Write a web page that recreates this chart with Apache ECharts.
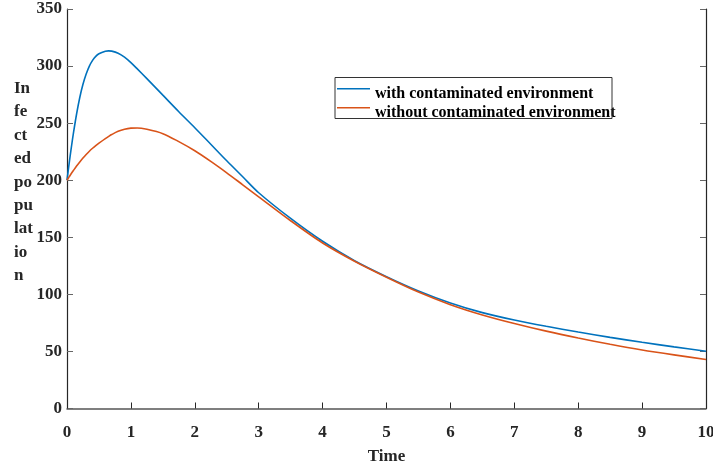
<!DOCTYPE html>
<html>
<head>
<meta charset="utf-8">
<script src="https://cdn.jsdelivr.net/npm/echarts@6/dist/echarts.min.js"></script>
<style>
  html, body { margin: 0; padding: 0; background: #fff; }
  #chart { width: 713px; height: 465px; }
</style>
</head>
<body>
<div id="chart"></div>
<script>
// Infected population over time, with and without the contaminated environment
const time = [0, 0.025, 0.05, 0.075, 0.1, 0.15, 0.2, 0.25, 0.3, 0.35, 0.4, 0.45, 0.5, 0.6, 0.65, 0.7, 0.8, 0.9, 1.0, 1.1, 1.25, 1.5, 1.75, 2, 2.25, 2.5, 2.75, 3, 3.5, 4, 4.5, 5, 5.5, 6, 6.5, 7, 7.5, 8, 8.5, 9, 9.5, 10];
const withEnv = [200, 211, 221.5, 231.5, 241, 258, 272.5, 284, 293, 300, 305, 308.5, 310.8, 313, 313.3, 313.1, 311.3, 307.8, 303, 297.5, 289, 274.5, 260, 246, 231.5, 217, 203, 189, 166.5, 146.5, 129.5, 115.5, 103, 92.5, 84, 77.5, 72, 67, 62.3, 58, 54, 50.2];
const withoutEnv = [200, 202.2, 204.4, 206.5, 208.5, 212.4, 216, 219.4, 222.5, 225.4, 228, 230.4, 232.5, 236.5, 238.3, 240, 242.8, 244.6, 245.6, 245.8, 244.6, 240.8, 233.8, 225.8, 216.5, 206.5, 196, 185.5, 164.5, 145, 129, 115, 102, 91, 82, 74.5, 67.8, 61.8, 56.3, 51.3, 47, 43];
const seriesNames = ['with contaminated environment', 'without contaminated environment'];
const yTitle = ['In', 'fe', 'ct', 'ed', 'po', 'pu', 'lat', 'io', 'n'];
const xTitle = 'Time';

const font = '"Liberation Serif", "Times New Roman", serif';
const ink = '#262626';

// Legend key: a short line sitting above the text's middle (the tiny second
// subpath only stretches the icon's bounding box downwards).
const keyIcon = 'path://M0,0 L33,0 L33,1.5 L0,1.5 Z M0,12 L0.01,12 L0,12.01 Z';

function pairs(xs, ys) { return xs.map((x, i) => [x, ys[i]]); }

const chart = echarts.init(document.getElementById('chart'), null, { renderer: 'canvas' });
chart.setOption({
  backgroundColor: '#fff',
  animation: false,
  grid: { left: 67, right: 7, top: 9, bottom: 56.5, containLabel: false, outerBoundsMode: 'none' },
  xAxis: {
    type: 'value', min: 0, max: 10, interval: 1,
    name: xTitle, nameLocation: 'middle', nameGap: 40,
    nameTextStyle: { fontFamily: font, fontWeight: 'bold', fontSize: 17, color: ink },
    axisLine: { show: true, lineStyle: { color: '#555', width: 1.5 } },
    axisTick: { show: true, inside: true, length: 6, lineStyle: { color: ink } },
    axisLabel: { fontFamily: font, fontWeight: 'bold', fontSize: 17, color: ink, margin: 16 },
    splitLine: { show: false }
  },
  yAxis: [{
    type: 'value', min: 0, max: 350, interval: 50,
    axisLine: { show: true, lineStyle: { color: ink, width: 1.2 } },
    axisTick: { show: true, inside: true, length: 6, lineStyle: { color: '#666' } },
    axisLabel: { fontFamily: font, fontWeight: 'bold', fontSize: 17, color: ink, margin: 5, padding: [10, 0, 0, 0] },
    splitLine: { show: false }
  }, {
    type: 'value', min: 0, max: 350, interval: 50, position: 'right',
    axisLine: { show: true, lineStyle: { color: ink, width: 1.2 } },
    axisTick: { show: true, inside: true, length: 6, lineStyle: { color: '#666' } },
    axisLabel: { show: false },
    splitLine: { show: false }
  }],
  legend: {
    left: 337, top: 85, orient: 'vertical', itemGap: 1,
    itemWidth: 33, itemHeight: 13, icon: keyIcon,
    padding: 0,
    textStyle: { fontFamily: font, fontWeight: 'bold', fontSize: 16, color: '#000', lineHeight: 18 },
    data: seriesNames
  },
  graphic: [
    {
      type: 'rect', silent: true, z: 10,
      shape: { x: 335, y: 77.5, width: 277, height: 41 },
      style: { fill: 'none', stroke: '#333', lineWidth: 1 }
    },
    {
      type: 'text', left: 14, top: 77, silent: true,
      style: {
        text: yTitle.join('\n'),
        fontFamily: font, fontWeight: 'bold', fontSize: 17, lineHeight: 23.4, fill: ink
      }
    }
  ],
  series: [
    {
      name: seriesNames[0], type: 'line', smooth: 0.3, showSymbol: false,
      data: pairs(time, withEnv),
      lineStyle: { color: '#0072BD', width: 1.6 }, itemStyle: { color: '#0072BD' }
    },
    {
      name: seriesNames[1], type: 'line', smooth: 0.3, showSymbol: false,
      data: pairs(time, withoutEnv),
      lineStyle: { color: '#D95319', width: 1.6 }, itemStyle: { color: '#D95319' }
    }
  ]
});
</script>
</body>
</html>
